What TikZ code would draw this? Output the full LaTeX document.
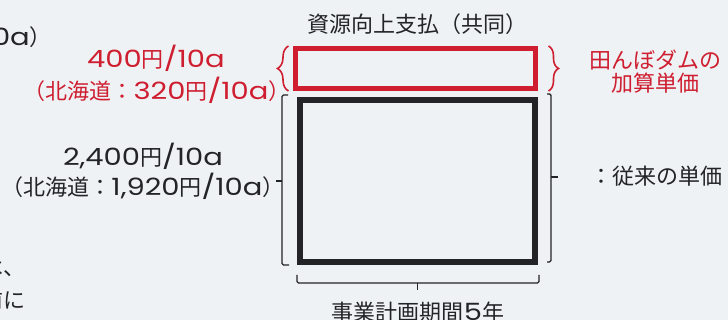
\documentclass[tikz,border=0pt]{standalone}
\usepackage{fontspec}
\setmainfont{Noto Sans CJK JP}
\newfontfamily\lat[FakeStretch=1.22, Scale=1.08]{Poppins}
\newcommand{\suu}[1]{{\lat #1}}
\usetikzlibrary{decorations.pathreplacing}
\definecolor{tanbo}{RGB}{206,30,48}
\definecolor{sumi}{RGB}{34,36,38}
\definecolor{kami}{RGB}{239,242,244}
\begin{document}
\begin{tikzpicture}[x=1pt,y=1pt,
        every node/.style={font=\fontsize{22}{24}\selectfont, text=sumi},
        aka/.style={text=tanbo},
        waku/.style={draw, inner sep=0pt},
        kakko/.style={sumi, line width=1.4pt, rounded corners=1.5pt},
        nami/.style={tanbo, line width=1.6pt, decorate, decoration={brace, amplitude=#1}}]
        \clip (0,0) rectangle (728,320);
        \fill[kami] (0,0) rectangle (728,320);
        % boxes
        \node[waku, draw=tanbo, line width=5pt, minimum width=240pt, minimum height=40pt] (kasan) at (415.5,251.5) {};
        \node[waku, draw=sumi, line width=6pt, minimum width=235pt, minimum height=162pt] (juurai) at (417.5,139) {};
        % red braces
        \draw[nami=11pt] ([xshift=-4.5pt]kasan.south west) -- ([xshift=-4.5pt]kasan.north west);
        \draw[nami=10pt] ([xshift=10.5pt]kasan.north east) -- ([xshift=10.5pt]kasan.south east);
        % brackets
        \coordinate (L1) at ([xshift=-9pt,yshift=2pt]juurai.north west);
        \coordinate (L2) at ([xshift=-15pt,yshift=2pt]juurai.north west);
        \coordinate (L3) at ([xshift=-15pt]juurai.south west);
        \coordinate (L4) at ([xshift=-8pt]juurai.south west);
        \draw[kakko] (L1) -- (L2) -- (L3) -- (L4);
        \draw[kakko] ([xshift=-15pt]juurai.west) -- ([xshift=-21pt]juurai.west);
        \coordinate (R1) at ([xshift=9pt,yshift=3pt]juurai.north east);
        \coordinate (R2) at ([xshift=13pt,yshift=3pt]juurai.north east);
        \coordinate (R3) at ([xshift=13pt,yshift=3pt]juurai.south east);
        \coordinate (R4) at ([xshift=9pt,yshift=3pt]juurai.south east);
        \draw[kakko] (R1) -- (R2) -- (R3) -- (R4);
        \draw[kakko] ([xshift=13pt,yshift=4pt]juurai.east) -- ([xshift=20pt,yshift=4pt]juurai.east);
        \coordinate (B1) at ([yshift=-10pt]juurai.south west);
        \coordinate (B2) at ([yshift=-18pt]juurai.south west);
        \coordinate (B3) at ([xshift=1pt,yshift=-18pt]juurai.south east);
        \coordinate (B4) at ([xshift=1pt,yshift=-10pt]juurai.south east);
        \draw[kakko] (B1) -- (B2) -- (B3) -- (B4);
        \draw[kakko] ([yshift=-18pt]juurai.south) -- ([yshift=-25pt]juurai.south);
        % labels
        \node (midashi) at (417,296) {資源向上支払（共同）};
        \node[aka] (kasan400) at (156,262) {\suu{400}円\suu{/10a}};
        \node[aka] (kasanhk) at (157,230) {（北海道：\suu{320}円\suu{/10a}）};
        \node[aka, align=center, font=\fontsize{22}{23}\selectfont] (tandam) at (655,248.5) {田んぼダムの\\加算単価};
        \node (juurai2400) at (143,164) {\suu{2,400}円\suu{/10a}};
        \node (juuraihk) at (143,134) {（北海道：\suu{1,920}円\suu{/10a}）};
        \node (juuraimei) at (656,144) {：従来の単価};
        \node (kikan) at (418,8) {事業計画期間\suu{5}年};
        % cut-off text at the left edge
        \node[anchor=east, inner sep=0pt] (hashi1) at (52,283) {\suu{10a}）};
        \node[anchor=east, inner sep=0pt] (hashi2) at (26,52) {は、};
        \node[anchor=east, inner sep=0pt] (hashi3) at (26,20) {前に};
\end{tikzpicture}
\end{document}
